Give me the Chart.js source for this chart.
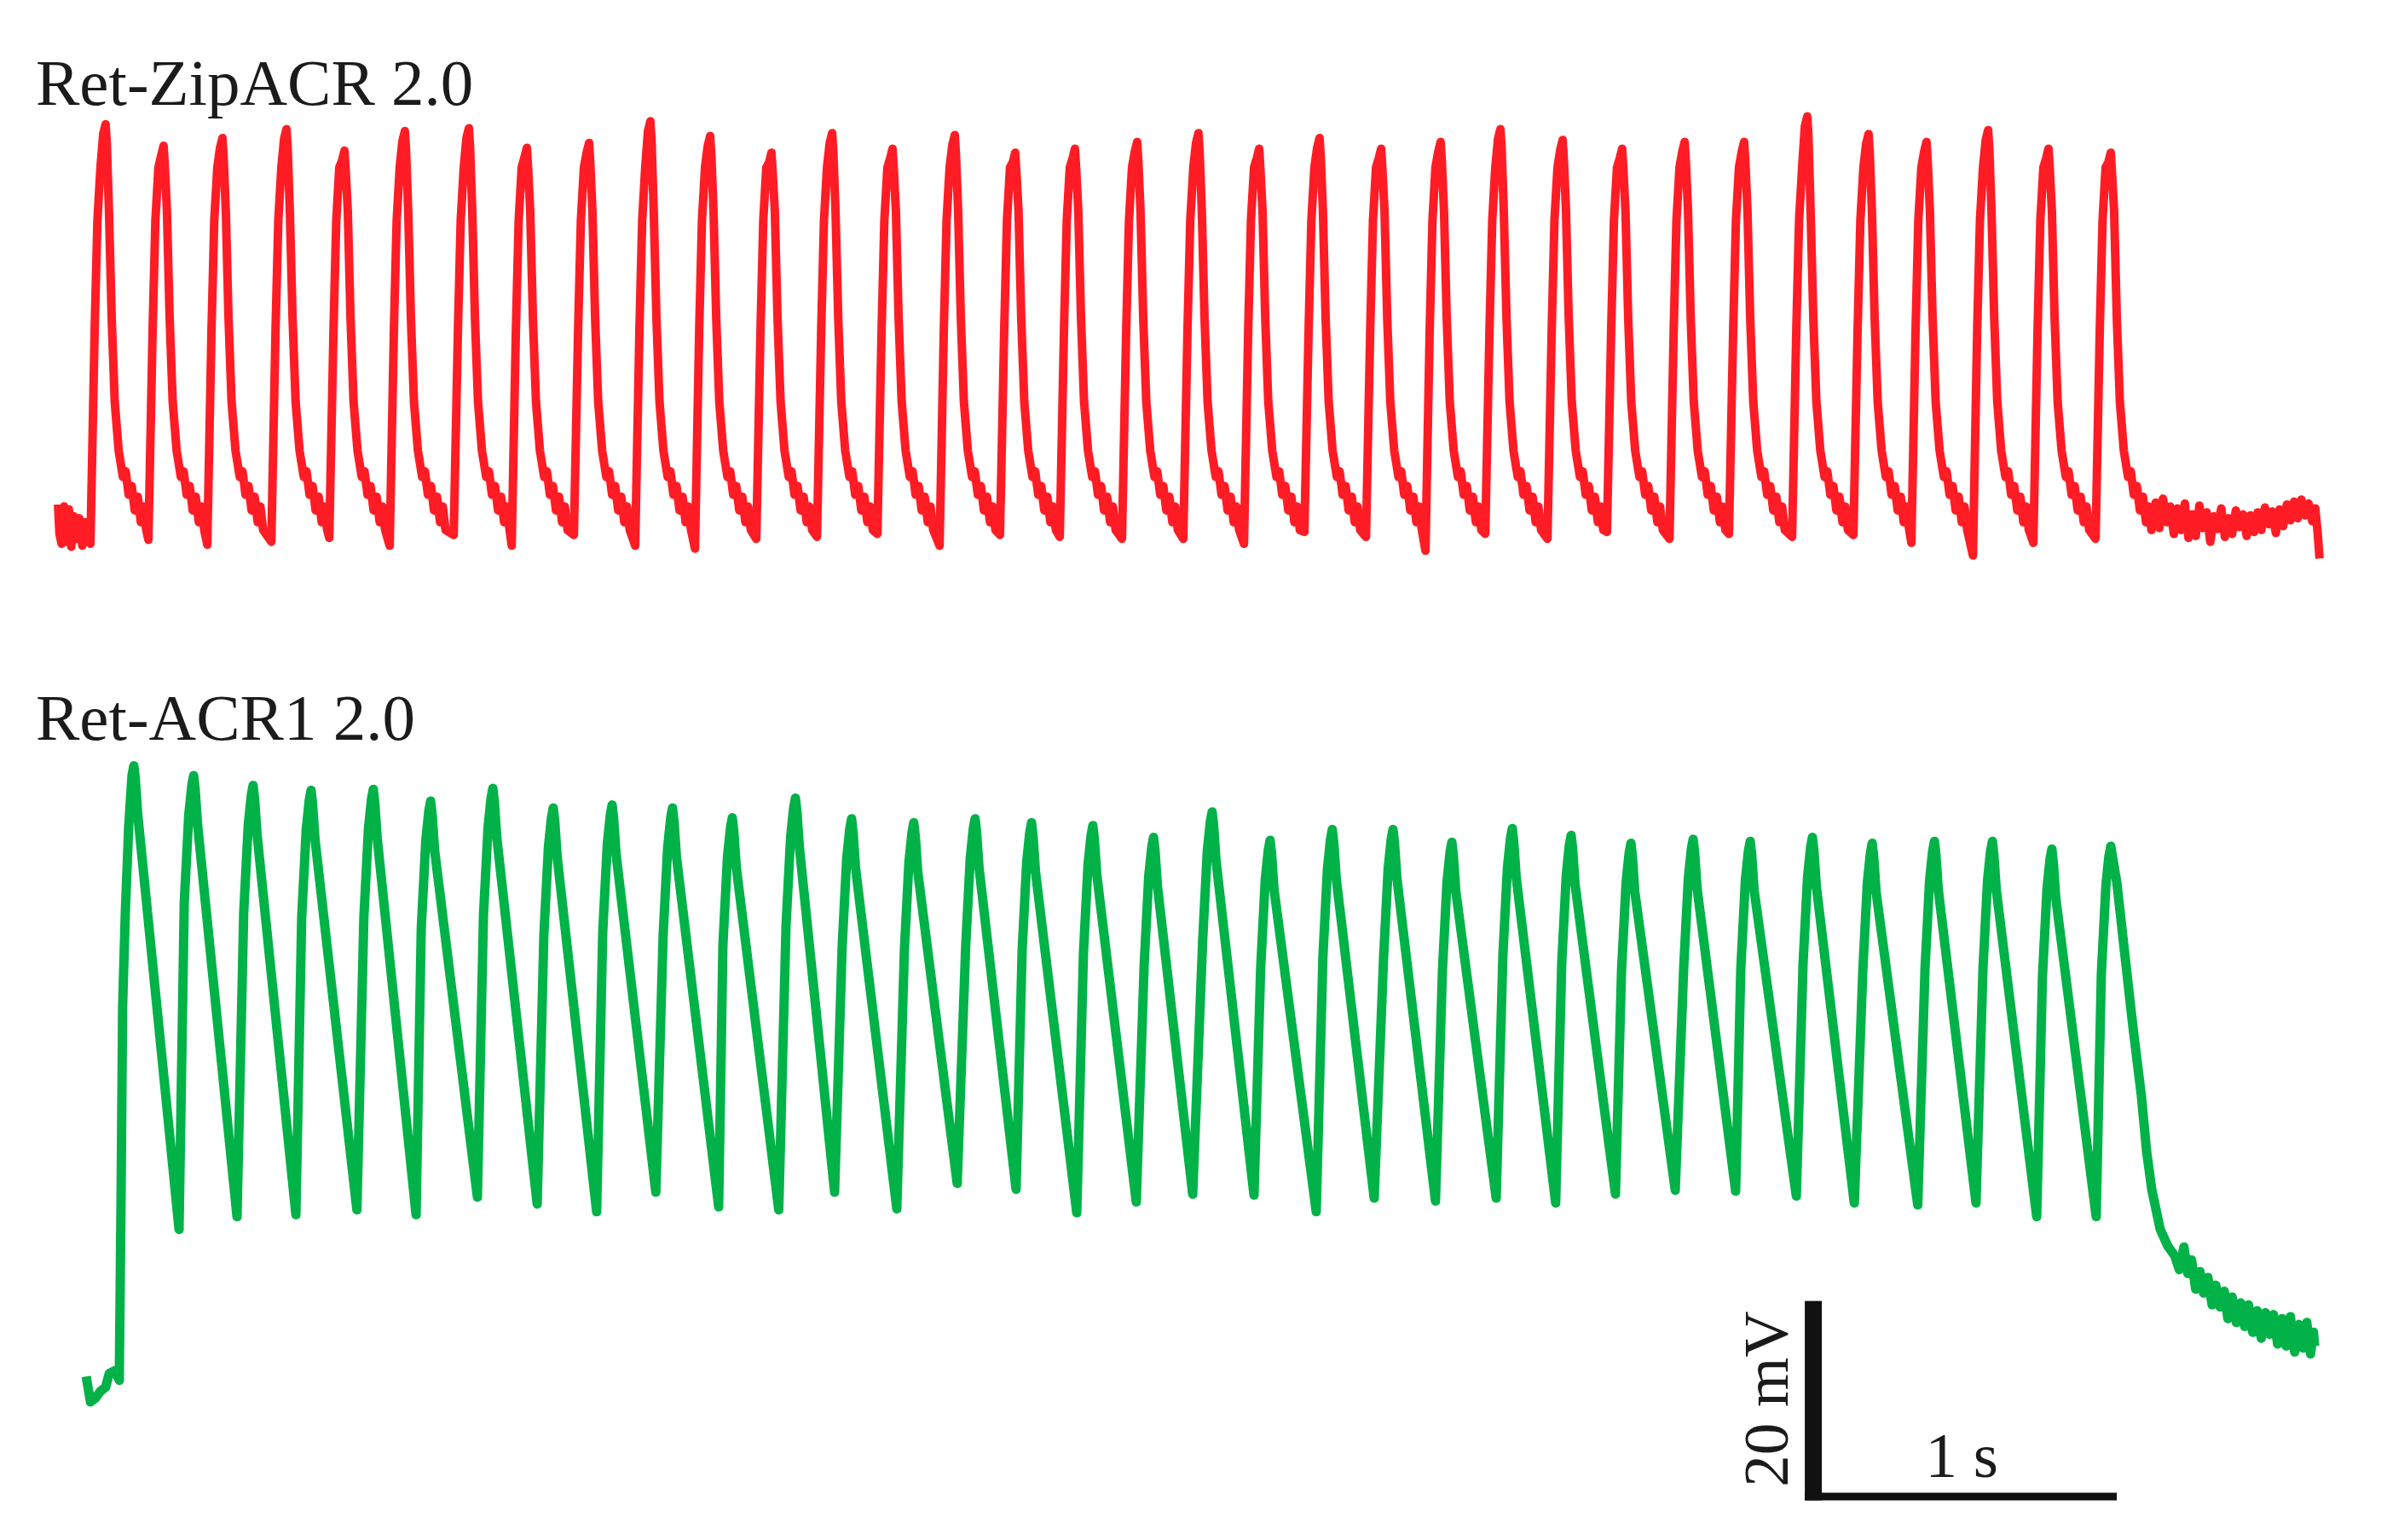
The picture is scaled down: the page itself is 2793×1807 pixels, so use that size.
<!DOCTYPE html>
<html>
<head>
<meta charset="utf-8">
<title>Ret-ZipACR 2.0 / Ret-ACR1 2.0</title>
<script src="https://cdn.jsdelivr.net/npm/chart.js@4.4.1/dist/chart.umd.min.js"></script>
<style>
  html, body { margin: 0; padding: 0; background: #ffffff; }
  canvas { display: block; }
</style>
</head>
<body>
<canvas id="trazos" width="2793" height="1807"></canvas>
<script>
// Ret-ZipACR 2.0 (red): time in ms, voltage in mV relative to resting baseline
const redPeakMs = [157, 348, 542, 753, 944, 1143, 1354, 1545, 1750, 1952, 2149, 2351, 2551, 2750, 2955, 3154, 3351,
    3556, 3758, 3958, 4157, 4360, 4556, 4753, 4958, 5154, 5360, 5556, 5764, 5966, 6157, 6360, 6559, 6764];
const redPeakMv = [40.8, 38.6, 39.4, 40.3, 38.1, 40.1, 40.4, 38.4, 38.9, 41.1, 39.6, 37.9, 39.9, 38.3, 39.7, 37.9, 38.3,
    39.0, 39.9, 38.3, 39.4, 38.3, 39.0, 40.3, 39.2, 38.3, 39.0, 39.0, 41.6, 39.8, 39.0, 40.2, 38.3, 37.9];
// lowest point just before each upstroke
const redTroughMv = [-2.0, -1.6, -2.1, -1.8, -1.4, -2.2, -1.1, -2.2, -1.1, -2.2, -2.5, -1.5, -1.3, -1.0, -2.2, -1.1, -1.3,
    -1.5, -1.5, -2.0, -0.8, -1.3, -2.7, -1.0, -1.5, -0.8, -1.5, -1.0, -1.3, -1.1, -1.9, -3.2, -1.9, -1.5];
// waveform of one spike around its peak (ms from peak, mV), read from the first spikes
const redOnsetMs = -50;
const redShapeMs = [-36, -27, -17, 11, 20, 30, 43, 57, 66, 76, 86, 96, 106, 116, 125, 134];
const redShapeMv = [20, 31, 36.4, 32, 21, 12.5, 7.5, 4.8, 5.4, 3.0, 3.9, 1.4, 2.8, 0.2, 1.8, -0.6];
// rounded top: ms from peak, mV below the peak
const redTopMs = [-8, 4];
const redTopDrop = [1.0, 2.0];
const redPreMs = [0, 5, 12, 20, 28, 36, 44, 52, 60, 70, 80, 88, 96];
const redPreMv = [2.0, -1.0, -2.0, 1.8, -1.8, 1.5, -2.3, 0.8, -1.5, 0.6, -2.2, 0.2, -1.6];
const redTailMs = [6912, 6924, 6936, 6948, 6960, 6972, 6984, 6996, 7008, 7020, 7032, 7044, 7056, 7068, 7080, 7092,
    7104, 7116, 7128, 7140, 7152, 7164, 7176, 7188, 7200, 7212, 7224, 7236, 7248, 7260, 7272, 7284, 7296, 7308, 7320,
    7332, 7344, 7356, 7368, 7380, 7392, 7404, 7416, 7428, 7438, 7446, 7452];
const redTailMv = [2.2, -0.4, 2.6, 0.2, 1.8, -1.0, 1.6, -0.6, 2.1, -1.4, 1.0, -1.2, 1.9, -0.4, 1.2, -1.8, 0.8, -0.5,
    1.6, -1.3, 0.6, -1.0, 1.4, -0.3, 1.0, -1.2, 0.9, -0.8, 1.2, -0.6, 1.7, 0.0, 1.3, -0.9, 1.5, -0.2, 2.0, 0.4, 2.3,
    0.6, 2.5, 0.9, 2.1, 0.3, 1.6, -1.0, -3.5];

// Ret-ACR1 2.0 (green)
const greenPeakMs = [250, 447, 643, 834, 1039, 1228, 1433, 1632, 1826, 2025, 2222, 2430, 2615, 2820, 3022, 3208, 3410,
    3610, 3803, 3994, 4199, 4399, 4593, 4792, 4986, 5183, 5388, 5576, 5781, 5978, 6183, 6374, 6570, 6764];
const greenPeakMv = [63.6, 62.6, 61.6, 61.1, 61.2, 60.0, 61.3, 59.3, 59.6, 59.3, 58.3, 60.3, 58.2, 57.8, 58.2, 57.8, 57.5,
    56.3, 58.9, 56.0, 57.1, 57.1, 55.8, 57.2, 56.5, 55.7, 56.1, 55.9, 56.3, 55.7, 55.9, 55.9, 55.1, 55.4];
const greenTroughMs = [399, 590, 784, 985, 1180, 1382, 1579, 1775, 1970, 2177, 2375, 2559, 2764, 2963, 3157, 3357, 3553,
    3739, 3941, 4146, 4337, 4539, 4739, 4935, 5132, 5329, 5528, 5728, 5919, 6128, 6320, 6520, 6716];
const greenTroughMv = [16.3, 17.6, 17.8, 18.3, 17.8, 19.6, 18.9, 18.1, 20.1, 18.6, 18.3, 20.1, 18.4, 21.0, 20.4, 18.0,
    19.1, 19.9, 19.8, 18.1, 19.5, 19.2, 19.5, 19.0, 19.9, 20.3, 20.2, 19.7, 19.0, 18.8, 19.0, 17.6, 17.6];
// knees of the upstroke and of the top (ms from peak, mV below the peak)
const greenRiseMs = [-31, -16, -6];
const greenRiseDrop = [13, 4, 1.0];
const greenTopMs = [5, 13];
const greenTopDrop = [1.4, 5.0];
const greenPreMs = [93, 107, 124, 140, 157, 169, 188, 202, 208, 213, 222, 233, 244];
const greenPreMv = [1.3, -1.3, -0.9, -0.2, 0.2, 1.6, 1.9, 0.9, 20, 39, 48.7, 57.4, 62.6];
const greenTailMs = [6784, 6812, 6837, 6865, 6882, 6899, 6927, 6952, 6975, 6990, 7005, 7018, 7030, 7044, 7058, 7070,
    7084, 7098, 7110, 7124, 7138, 7150, 7164, 7178, 7192, 7205, 7218, 7232, 7246, 7260, 7274, 7288, 7300, 7314, 7328,
    7342, 7356, 7370, 7384, 7398, 7410, 7422, 7432, 7436];
const greenTailMv = [51.7, 43.9, 37.0, 29.9, 24.3, 20.4, 16.3, 14.6, 13.6, 12.2, 14.5, 11.8, 13.2, 10.2, 12.0, 9.8,
    11.4, 8.6, 10.6, 8.4, 10.0, 7.2, 9.4, 6.8, 8.8, 6.4, 8.6, 5.8, 8.0, 5.2, 7.8, 5.6, 7.6, 4.6, 7.2, 4.4, 7.4, 3.8,
    6.6, 4.2, 6.8, 3.6, 5.8, 4.4];

// scale bar: 1 s and 20 mV (on the green trace's axis)
const scaleBarMs = [5784, 6784];
const scaleBarMv = [-11, 9];

function construirRojo() {
    const pts = redPreMs.map((t, i) => ({ x: t, y: redPreMv[i] }));
    redPeakMs.forEach((p, k) => {
        const h = redPeakMv[k];
        pts.push({ x: p + redOnsetMs, y: redTroughMv[k] });
        redShapeMs.forEach((dt, j) => {
            if (dt < 0) pts.push({ x: p + dt, y: redShapeMv[j] });
        });
        pts.push({ x: p + redTopMs[0], y: h - redTopDrop[0] });
        pts.push({ x: p, y: h });
        pts.push({ x: p + redTopMs[1], y: h - redTopDrop[1] });
        redShapeMs.forEach((dt, j) => {
            if (dt > 0) pts.push({ x: p + dt, y: redShapeMv[j] });
        });
    });
    redTailMs.forEach((t, i) => pts.push({ x: t, y: redTailMv[i] }));
    return pts;
}

function construirVerde() {
    const pts = greenPreMs.map((t, i) => ({ x: t, y: greenPreMv[i] }));
    greenPeakMs.forEach((p, k) => {
        const h = greenPeakMv[k];
        if (k > 0) {
            pts.push({ x: greenTroughMs[k - 1], y: greenTroughMv[k - 1] });
            greenRiseMs.forEach((dt, j) => pts.push({ x: p + dt, y: h - greenRiseDrop[j] }));
        }
        pts.push({ x: p, y: h });
        if (k < greenPeakMs.length - 1) {
            greenTopMs.forEach((dt, j) => pts.push({ x: p + dt, y: h - greenTopDrop[j] }));
        }
    });
    greenTailMs.forEach((t, i) => pts.push({ x: t, y: greenTailMv[i] }));
    return pts;
}

// titles and scale bar
const rotulos = {
    id: 'rotulos',
    afterDraw(chart) {
        const { ctx, scales } = chart;
        ctx.save();
        ctx.fillStyle = '#1c1a1a';
        ctx.font = '77px "Liberation Serif", "Times New Roman", serif';
        ctx.textAlign = 'left';
        ctx.textBaseline = 'alphabetic';
        ctx.fillText('Ret-ZipACR 2.0', 42, 123);
        ctx.fillText('Ret-ACR1 2.0', 42, 868);

        const x0 = scales.x.getPixelForValue(scaleBarMs[0]);
        const x1 = scales.x.getPixelForValue(scaleBarMs[1]);
        const yb = scales.yG.getPixelForValue(scaleBarMv[0]);
        const yt = scales.yG.getPixelForValue(scaleBarMv[1]);
        ctx.fillStyle = '#111111';
        ctx.fillRect(x0 - 10, yt, 20, yb - yt + 4);
        ctx.fillRect(x0 - 10, yb - 5, x1 - x0 + 10, 9);

        ctx.fillStyle = '#1c1a1a';
        ctx.font = '75px "Liberation Serif", "Times New Roman", serif';
        ctx.textAlign = 'center';
        ctx.fillText('1 s', (x0 + x1) / 2 - 4, yb - 24);
        ctx.translate(x0 - 30, (yt + yb) / 2);
        ctx.rotate(-Math.PI / 2);
        ctx.fillText('20 mV', 0, 0);
        ctx.restore();
    }
};

document.addEventListener('DOMContentLoaded', () => {
    const ctx = document.getElementById('trazos').getContext('2d');
    window.graficoTrazos = new Chart(ctx, {
        type: 'line',
        data: {
            datasets: [
                {
                    label: 'Ret-ZipACR 2.0',
                    data: construirRojo(),
                    yAxisID: 'yR',
                    borderColor: '#ff1c24',
                    borderWidth: 10,
                    pointRadius: 0,
                    tension: 0,
                    borderJoinStyle: 'round',
                    fill: false
                },
                {
                    label: 'Ret-ACR1 2.0',
                    data: construirVerde(),
                    yAxisID: 'yG',
                    borderColor: '#00b247',
                    borderWidth: 11,
                    pointRadius: 0,
                    tension: 0,
                    borderJoinStyle: 'round',
                    fill: false
                }
            ]
        },
        options: {
            responsive: false,
            animation: false,
            devicePixelRatio: 1,
            layout: { padding: 0 },
            plugins: {
                legend: { display: false },
                tooltip: { enabled: false }
            },
            scales: {
                x: { type: 'linear', min: -191, max: 7654.5, display: false },
                yR: { type: 'linear', min: -103.65, max: 53.48, display: false },
                yG: { type: 'linear', min: -15.39, max: 141.74, display: false }
            }
        },
        plugins: [rotulos]
    });
});
</script>
</body>
</html>
